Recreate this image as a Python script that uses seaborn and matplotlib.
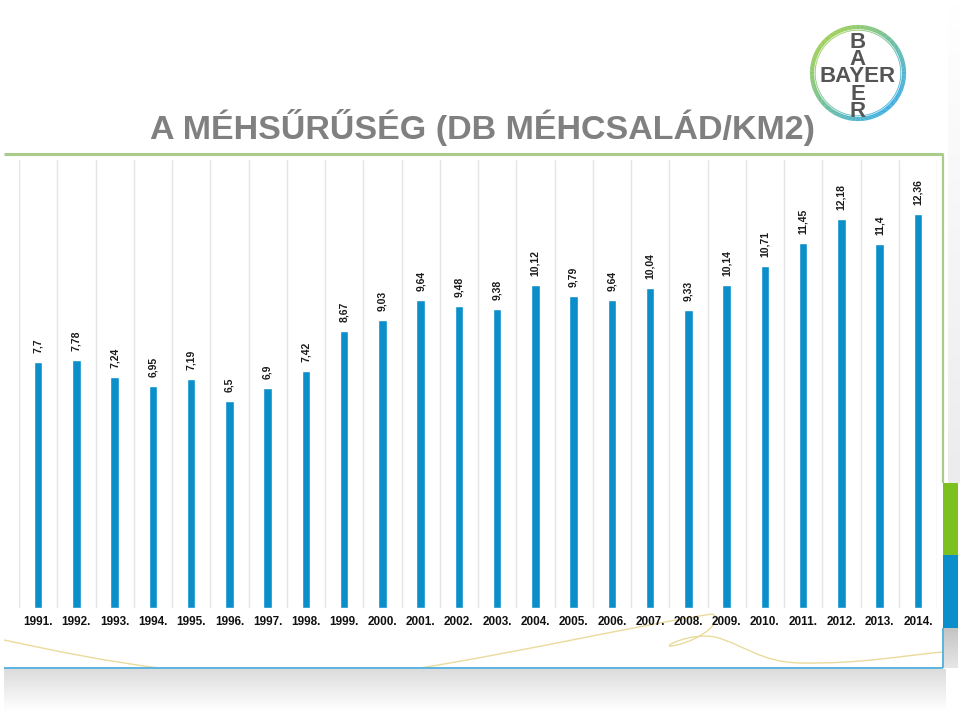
import numpy as np
import matplotlib
matplotlib.use("Agg")
import matplotlib.pyplot as plt
import seaborn as sns
import pandas as pd
from matplotlib.collections import LineCollection
from matplotlib.path import Path
from matplotlib.patches import PathPatch, Rectangle
from matplotlib.colors import to_rgb

# ---------------- data ----------------
year_labels = ["1991.", "1992.", "1993.", "1994.", "1995.", "1996.", "1997.", "1998.",
               "1999.", "2000.", "2001.", "2002.", "2003.", "2004.", "2005.", "2006.",
               "2007.", "2008.", "2009.", "2010.", "2011.", "2012.", "2013.", "2014."]
density = [7.7, 7.78, 7.24, 6.95, 7.19, 6.5, 6.9, 7.42, 8.67, 9.03, 9.64, 9.48,
           9.38, 10.12, 9.79, 9.64, 10.04, 9.33, 10.14, 10.71, 11.45, 12.18, 11.4, 12.36]
value_labels = ["7,7", "7,78", "7,24", "6,95", "7,19", "6,5", "6,9", "7,42", "8,67", "9,03",
                "9,64", "9,48", "9,38", "10,12", "9,79", "9,64", "10,04", "9,33", "10,14",
                "10,71", "11,45", "12,18", "11,4", "12,36"]
title = "A MÉHSŰRŰSÉG (DB MÉHCSALÁD/KM2)"

BAR_BLUE = "#0b8fca"

sns.set_theme(style="white")
plt.rcParams["font.family"] = ["Liberation Sans", "DejaVu Sans"]

W, H = 960, 711
fig = plt.figure(figsize=(W / 100, H / 100), dpi=100)
fig.patch.set_facecolor("white")

# ---------------- background / decoration axes (pixel coordinates) ----------------
bg = fig.add_axes([0, 0, 1, 1], zorder=0)
bg.set_xlim(0, W)
bg.set_ylim(H, 0)
bg.axis("off")

def vgrad(ax, x0, x1, y0, y1, c0, c1, n=64):
    c0 = np.array(to_rgb(c0)); c1 = np.array(to_rgb(c1))
    t = np.linspace(0, 1, n)[:, None]
    img = (c0 * (1 - t) + c1 * t)[:, None, :]
    ax.imshow(img, extent=(x0, x1, y1, y0), origin="upper", aspect="auto",
              interpolation="bilinear", zorder=0)

# bottom shadow
vgrad(bg, 4, 946, 669, 711, "#dcdcdc", "#ffffff")
# right light band
vgrad(bg, 948, 960, 0, 483, "#ffffff", "#ececec")
# right strip blocks
bg.add_patch(Rectangle((943, 483), 15, 72, color="#7cc11f", lw=0, zorder=1))
bg.add_patch(Rectangle((943, 555), 15, 73, color=BAR_BLUE, lw=0, zorder=1))
vgrad(bg, 943, 958, 628, 668, "#c4c4c4", "#e6e6e6")
bg.set_xlim(0, W)
bg.set_ylim(H, 0)

# frame lines
bg.plot([4, 943], [154, 154], color="#a9cc8a", lw=2.2, solid_capstyle="butt", zorder=2)
bg.plot([943, 943], [154, 483], color="#a9cc8a", lw=1.6, solid_capstyle="butt", zorder=2)
bg.plot([943, 943], [628, 668], color="#5ab4e0", lw=1.4, solid_capstyle="butt", zorder=2)
bg.plot([4, 943], [668, 668], color="#5ab4e0", lw=1.4, solid_capstyle="butt", zorder=2)

# decorative yellow swirl
verts = [(4, 640), (60, 652), (110, 662), (160, 668),
         (420, 668), (520, 652), (640, 625), (712, 614),
         (725, 618), (705, 640), (672, 646),
         (660, 648), (690, 632), (715, 637),
         (745, 645), (760, 662), (800, 663),
         (860, 664), (900, 656), (942, 652)]
codes = [Path.MOVETO, Path.CURVE4, Path.CURVE4, Path.CURVE4,
         Path.MOVETO, Path.CURVE4, Path.CURVE4, Path.CURVE4,
         Path.CURVE4, Path.CURVE4, Path.CURVE4,
         Path.CURVE4, Path.CURVE4, Path.CURVE4,
         Path.CURVE4, Path.CURVE4, Path.CURVE4,
         Path.CURVE4, Path.CURVE4, Path.CURVE4]
bg.add_patch(PathPatch(Path(verts, codes), fc="none", ec="#eadb9c", lw=1.0, zorder=1))

# Bayer logo
cx, cy, r = 858, 73, 46
th = np.linspace(0, 2 * np.pi, 361)
pts = np.column_stack([cx + r * np.cos(th), cy - r * np.sin(th)])
segs = np.stack([pts[:-1], pts[1:]], axis=1)
tm = (th[:-1] + th[1:]) / 2
t = (np.cos(tm - 3 * np.pi / 4) + 1) / 2
g = np.array(to_rgb("#8cc63e")); b = np.array(to_rgb("#1fa3dc"))
cols = g[None, :] * t[:, None] + b[None, :] * (1 - t[:, None])
bg.add_collection(LineCollection(segs, colors=cols, linewidths=3.0, zorder=3))
ri = r - 3.2
pts2 = np.column_stack([cx + ri * np.cos(th), cy - ri * np.sin(th)])
segs2 = np.stack([pts2[:-1], pts2[1:]], axis=1)
bg.add_collection(LineCollection(segs2, colors=cols, linewidths=0.6, zorder=3))

logo_kw = dict(fontsize=16, fontweight="bold", color="#555555", zorder=4)
bg.text(cx, 74.5, "BAYER", ha="center", va="center_baseline", **logo_kw)
bg.text(cx, 77.0, "B\nA\n\nE\nR", ha="center", va="center", multialignment="center",
        linespacing=0.78, **logo_kw)

# title
fig.text(482 / W, 1 - 128 / H, title, ha="center", va="center", fontsize=24.5,
         fontweight="bold", color="#808080",
         family=["Liberation Sans Narrow", "Liberation Sans", "DejaVu Sans"])

# ---------------- chart axes ----------------
ax = fig.add_axes([19 / W, (H - 608) / H, 918 / W, 448 / H], zorder=1)
ax.patch.set_alpha(0)

df = pd.DataFrame({"year": year_labels, "value": density})
sns.barplot(data=df, x="year", y="value", color=BAR_BLUE, saturation=1,
            width=0.22, ax=ax, zorder=3)

for i in range(len(year_labels) + 1):
    ax.axvline(i - 0.5, color="#e4e4e4", lw=1.0, zorder=1)

ax.set_xlim(-0.5, len(year_labels) - 0.5)
ax.set_ylim(0, 448 / 31.9)
for s in ax.spines.values():
    s.set_visible(False)
ax.set_yticks([])
ax.set_xlabel("")
ax.set_ylabel("")
ax.tick_params(axis="x", length=0, pad=6, labelsize=8.5, labelcolor="#111111")
for lab in ax.get_xticklabels():
    lab.set_fontweight("bold")

ax.bar_label(ax.containers[0], labels=value_labels, rotation=90, padding=6.5,
             fontsize=7.5, fontweight="bold", color="#1a1a1a")

fig.savefig("out.png", dpi=100)
